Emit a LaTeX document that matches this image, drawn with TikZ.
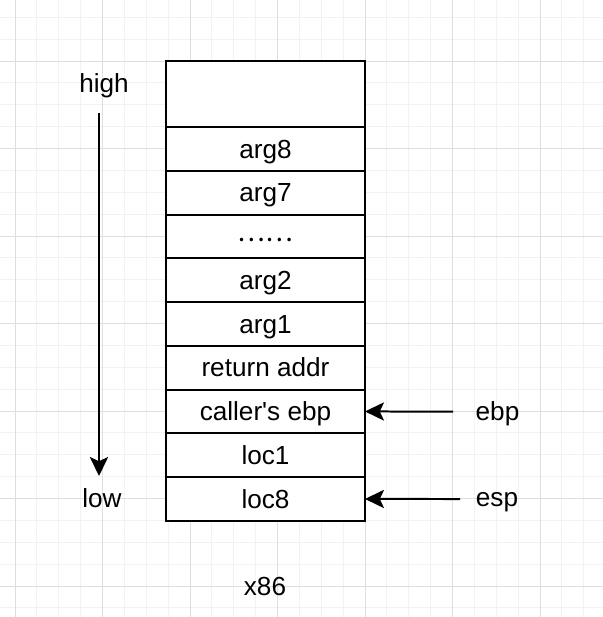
\documentclass[tikz,border=0pt]{standalone}
\usepackage{fontspec}
\setmainfont{Liberation Sans}
\newfontfamily\cjk{Noto Sans CJK SC}
\usetikzlibrary{arrows.meta,positioning}
\definecolor{GridMajor}{HTML}{DEDEDE}
\definecolor{GridMinor}{HTML}{F2F2F2}
\tikzset{
  stacklabel/.style={font=\fontsize{18.6}{22.3}\selectfont, text=black, text height=13pt, text depth=0pt},
  cell/.style={stacklabel, draw=black, line width=1.42pt, fill=white, minimum width=4.975cm, minimum height=1.09375cm, inner sep=0pt, outer sep=0pt},
  ptrarrow/.style={-{Stealth[length=13.5pt, width=13pt, inset=3pt]}, line width=1.42pt},
  gridminor/.style={draw=GridMinor, line width=0.7pt},
  gridmajor/.style={draw=GridMajor, line width=0.7pt}
}
\begin{document}
\begin{tikzpicture}[x=0.025cm, y=-0.025cm, node distance=0pt, every node/.style={stacklabel}]
\useasboundingbox (0,0) rectangle (603,617);
% background grid
\foreach \k in {0,...,27} \draw[gridminor] ({-6.875+21.875*\k},0) -- ++(0,617);
\foreach \k in {0,...,28} \draw[gridminor] (0,{-4.625+21.875*\k}) -- ++(603,0);
\foreach \k in {0,...,6} \draw[gridmajor] ({15+87.5*\k},0) -- ++(0,617);
\foreach \k in {0,...,7} \draw[gridmajor] (0,{-26.5+87.5*\k}) -- ++(603,0);
% stack frame
\node[cell, minimum height=1.65cm] (top) at (265.5,94) {};
\node[cell, below=of top] (arg8) {arg8};
\node[cell, below=of arg8] (arg7) {arg7};
\node[cell, below=of arg7] (dots) {\raisebox{3pt}{\cjk ……}};
\node[cell, below=of dots] (arg2) {arg2};
\node[cell, below=of arg2] (arg1) {arg1};
\node[cell, below=of arg1] (retaddr) {return addr};
\node[cell, below=of retaddr] (oldebp) {caller\textquotesingle s ebp};
\node[cell, below=of oldebp] (loc1) {loc1};
\node[cell, below=of loc1] (loc8) {loc8};
% labels
\node (high) at (104,83) {high};
\node (low) at (102,498.6) {low};
\node (ebp) at (497.5,411.6) {ebp};
\node (esp) at (497,497.6) {esp};
\node (arch) at (265,586) {x86};
% arrows
\coordinate (hightop) at (99,113);
\coordinate (lowtip) at (99,476);
\coordinate (ebpfrom) at (453,411.6);
\coordinate (espfrom) at (460,499);
\draw[ptrarrow] (hightop) -- (lowtip);
\draw[ptrarrow] (ebpfrom) -- (oldebp.east);
\draw[ptrarrow] (espfrom) -- (loc8.east);
\end{tikzpicture}
\end{document}
